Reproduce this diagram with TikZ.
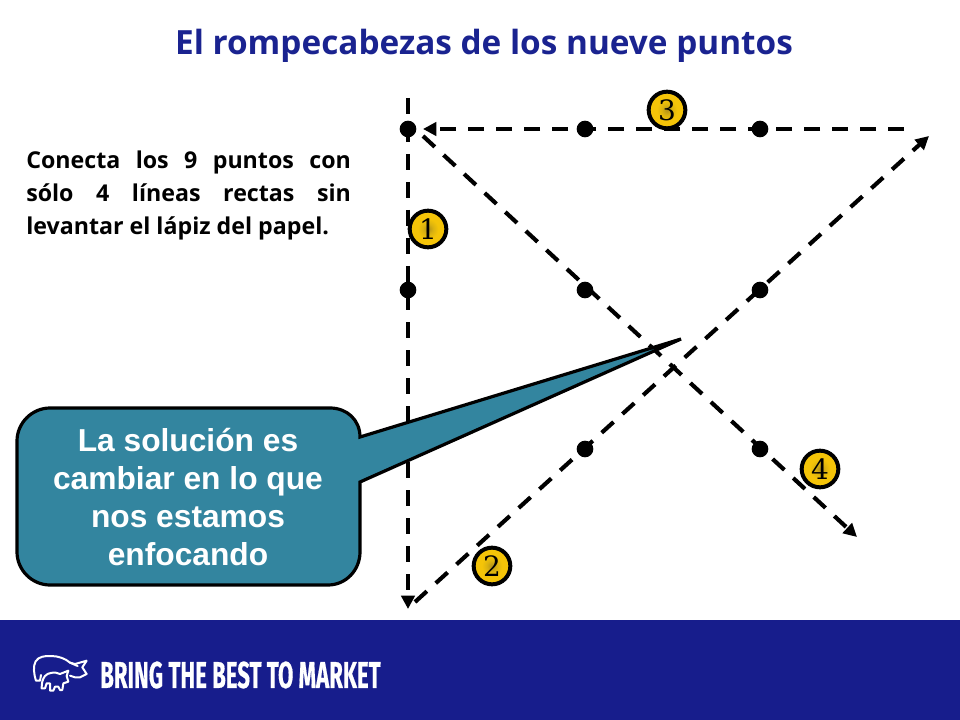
\documentclass[tikz,border=0pt]{standalone}
\usepackage{fontspec}
\setmainfont{Open Sans}
\newfontfamily\arialf{Liberation Sans}
\newfontfamily\bannerf[BoldFeatures={FakeBold=0.6}]{Fira Sans}
\newfontfamily\digitf{DejaVu Serif}
\usetikzlibrary{arrows.meta,shadings}
\definecolor{navy}{HTML}{171D8C}
\definecolor{titleblue}{HTML}{1A2390}
\definecolor{teal}{HTML}{33859F}
\pgfdeclareradialshading{goldball}{\pgfpoint{0bp}{0bp}}{rgb(0bp)=(0.70,0.57,0.10); rgb(7bp)=(0.86,0.70,0.06); rgb(14bp)=(0.96,0.77,0.03); rgb(25bp)=(0.96,0.77,0.03)}
\newcommand{\taskline}[1]{\hbox to 243.5pt{#1}}
\tikzset{
  x=0.75pt,y=-0.75pt,
  pt/.style={circle,fill=black,inner sep=0pt,minimum size=12.5pt},
  dashline/.style={line width=3.1pt,dash pattern=on 12pt off 9pt,-{Triangle[length=10pt,width=10pt]},black},
  badge/.style={circle,draw=black,line width=3pt,shading=goldball,minimum size=27.5pt,inner sep=0pt,font=\digitf\fontsize{21}{21}\selectfont,text=black},
  logoline/.style={draw=white,line width=1.5pt,line join=round,line cap=round}
}
\begin{document}
\begin{tikzpicture}
\useasboundingbox (0,0) rectangle (960,720);
\fill[white] (0,0) rectangle (960,720);
\fill[navy] (0,620) rectangle (960,720);
\node[font=\bfseries\fontsize{25}{30}\selectfont,text=titleblue,anchor=center] (title) at (484,46) {El rompecabezas de los nueve puntos};
\node[anchor=north west,inner sep=0pt,font=\bfseries\fontsize{17.4}{24.75}\selectfont,align=left] (task) at (26,151) {\taskline{Conecta\hfill los\hfill 9\hfill puntos\hfill con}\\\taskline{sólo\hfill 4\hfill líneas\hfill rectas\hfill sin}\\levantar el lápiz del papel.};
\coordinate (s1) at (408,98);\coordinate (e1) at (408,609);
\coordinate (s2) at (415,602);\coordinate (e2) at (929,136);
\coordinate (s3) at (904,129);\coordinate (e3) at (423,129);
\coordinate (s4) at (423,136);\coordinate (e4) at (857,537);
\draw[dashline] (s1) -- (e1);
\draw[dashline] (s2) -- (e2);
\draw[dashline] (s3) -- (e3);
\draw[dashline] (s4) -- (e4);
\foreach \n/\x/\y in {a/408/129,b/585/129,c/760/129,d/408/290,e/585/290,f/760/290,h/585/449,i/760/449}{
  \node[pt] (\n) at (\x,\y) {};
}
\node[badge] (n3) at (667,110) {3};
\node[badge] (n1) at (428,229) {1};
\node[badge] (n2) at (492,566) {2};
\node[badge] (n4) at (820,469) {4};
\draw[black,line width=2.4pt,fill=teal,line join=miter]
  (50,408) -- (330,408) .. controls (347,408) and (360,420) .. (360,437)
  -- (681,339) -- (360,482) -- (360,552)
  .. controls (360,570) and (346,585) .. (328,585)
  -- (50,585) .. controls (32,585) and (17,570) .. (17,552)
  -- (17,441) .. controls (17,423) and (32,408) .. (50,408) -- cycle;
\node[align=center,text=white,font=\arialf\bfseries\fontsize{23.8}{28.6}\selectfont] (call) at (188,497) {La solución es\\cambiar en lo que\\nos estamos\\enfocando};
\node[anchor=west,inner sep=0pt,text=white,font=\bannerf\bfseries\fontsize{28}{28}\selectfont,xscale=0.595] (banner) at (100,675) {BRING THE BEST TO MARKET};
\begin{scope}[shift={(25,650)},x=0.25pt,y=-0.25pt]
\draw[logoline] (48,75) -- (45,92) -- (33,92) .. controls (26,70) and (24,48) .. (32,34) .. controls (40,20) and (60,17) .. (78,18) .. controls (100,18) and (122,26) .. (135,38);
\draw[logoline] (135,38) -- (150,42) -- (185,32) -- (172,52) -- (185,72) -- (165,82) -- (150,82) -- (135,77);
\draw[logoline] (135,38) -- (158,48);
\draw[logoline] (50,115) .. controls (50,100) and (52,88) .. (60,78) .. controls (68,68) and (90,64) .. (105,72);
\draw[logoline] (105,72) -- (130,62) -- (125,78) -- (130,95) -- (115,100) -- (112,120) -- (105,120) -- (100,110) -- (90,110) -- (85,122) -- (75,122) -- (75,100) -- (65,100) -- (60,115) -- (50,115);
\end{scope}
\end{tikzpicture}
\end{document}
